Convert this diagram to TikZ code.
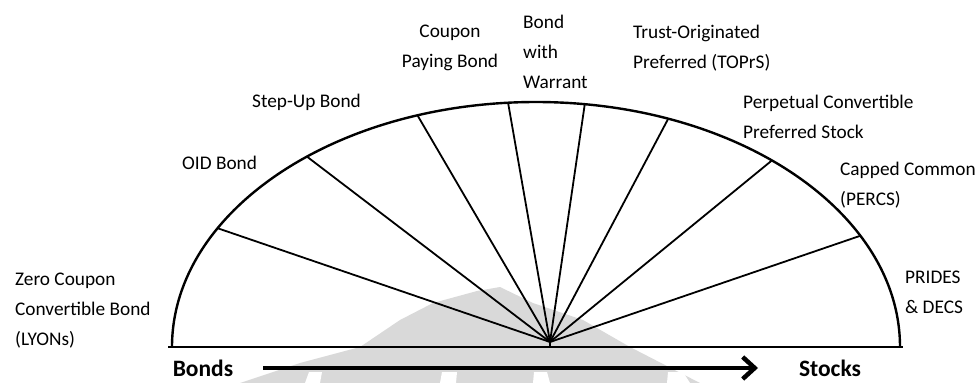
\documentclass[tikz,border=0pt]{standalone}
\usepackage{fontspec}
\setmainfont{Carlito}
\usetikzlibrary{arrows.meta}
\begin{document}
\begin{tikzpicture}[x=1pt,y=-1pt,
  lbl/.style={inner sep=0pt,font=\fontsize{19.3}{30}\selectfont},
  ray/.style={line width=1.8pt},
  axis/.style={line width=2pt},
  big/.style={inner sep=0pt,font=\fontsize{23.5}{26}\selectfont\bfseries}]
\useasboundingbox (0,0) rectangle (978,383);
% watermark
\fill[gray!30] (240,383) -- (300,363) -- (360,347) -- (400,320) -- (433,303) -- (477,291) -- (500,287) -- (533,303) -- (583,320) -- (630,347) -- (700,383) -- cycle;
\fill[white] (305,383) -- (309,372) -- (322,372) -- (320,383) -- cycle;
\fill[white] (440,383) -- (442,372) -- (457,372) -- (456,383) -- cycle;
\fill[white] (533,383) -- (534,372) -- (547,372) -- (550,383) -- cycle;
\fill[white] (667,383) -- (668,372) -- (683,372) -- (690,383) -- cycle;
% geometry
\coordinate (O) at (536,347);
\coordinate (F) at (550,342);
\coordinate (Fb) at (550,347);
\coordinate (bl) at (168,347);
\coordinate (br) at (903,347);
\path (O) ++(180:364pt and 245pt) coordinate (a0);
\path (O) ++(151:364pt and 245pt) coordinate (e1);
\path (O) ++(129:364pt and 245pt) coordinate (e2);
\path (O) ++(109:364pt and 245pt) coordinate (e3);
\path (O) ++(94.4:364pt and 245pt) coordinate (e4);
\path (O) ++(82.3:364pt and 245pt) coordinate (e5);
\path (O) ++(68.7:364pt and 245pt) coordinate (e6);
\path (O) ++(49.6:364pt and 245pt) coordinate (e7);
\path (O) ++(27:364pt and 245pt) coordinate (e8);
\draw[line width=2.4pt] (a0) arc[start angle=180,end angle=0,x radius=364pt,y radius=245pt];
\draw[axis] (bl) -- (br);
\foreach \i in {1,...,8} \draw[ray] (F) -- (e\i);
\draw[ray] (F) -- (Fb);
% labels
\node[lbl,anchor=west,align=left] (zc) at (15,311) {Zero Coupon\\Convertible Bond\\(LYONs)};
\node[lbl,anchor=west] (oid) at (182,163) {OID Bond};
\node[lbl,anchor=west] (sub) at (252,102) {Step-Up Bond};
\node[lbl,align=center] (cpb) at (450,48) {Coupon\\Paying Bond};
\node[lbl,anchor=west,align=left] (bww) at (523,52) {Bond\\with\\Warrant};
\node[lbl,anchor=west,align=left] (top) at (633,48) {Trust-Originated\\Preferred (TOPrS)};
\node[lbl,anchor=west,align=left] (pcp) at (743,117) {Perpetual Convertible\\Preferred Stock};
\node[lbl,anchor=west,align=left] (cc) at (840,185) {Capped Common\\(PERCS)};
\node[lbl,anchor=west,align=left] (pd) at (905,292) {PRIDES\\\& DECS};
% axis arrow
\node[big] (bonds) at (203,368) {Bonds};
\node[big] (stocks) at (830,368) {Stocks};
\coordinate (as) at (263,368);
\coordinate (ae) at (758,368);
\draw[line width=4.5pt,-{Straight Barb[length=12pt,width=22pt]}] (as) -- (ae);
\end{tikzpicture}
\end{document}
